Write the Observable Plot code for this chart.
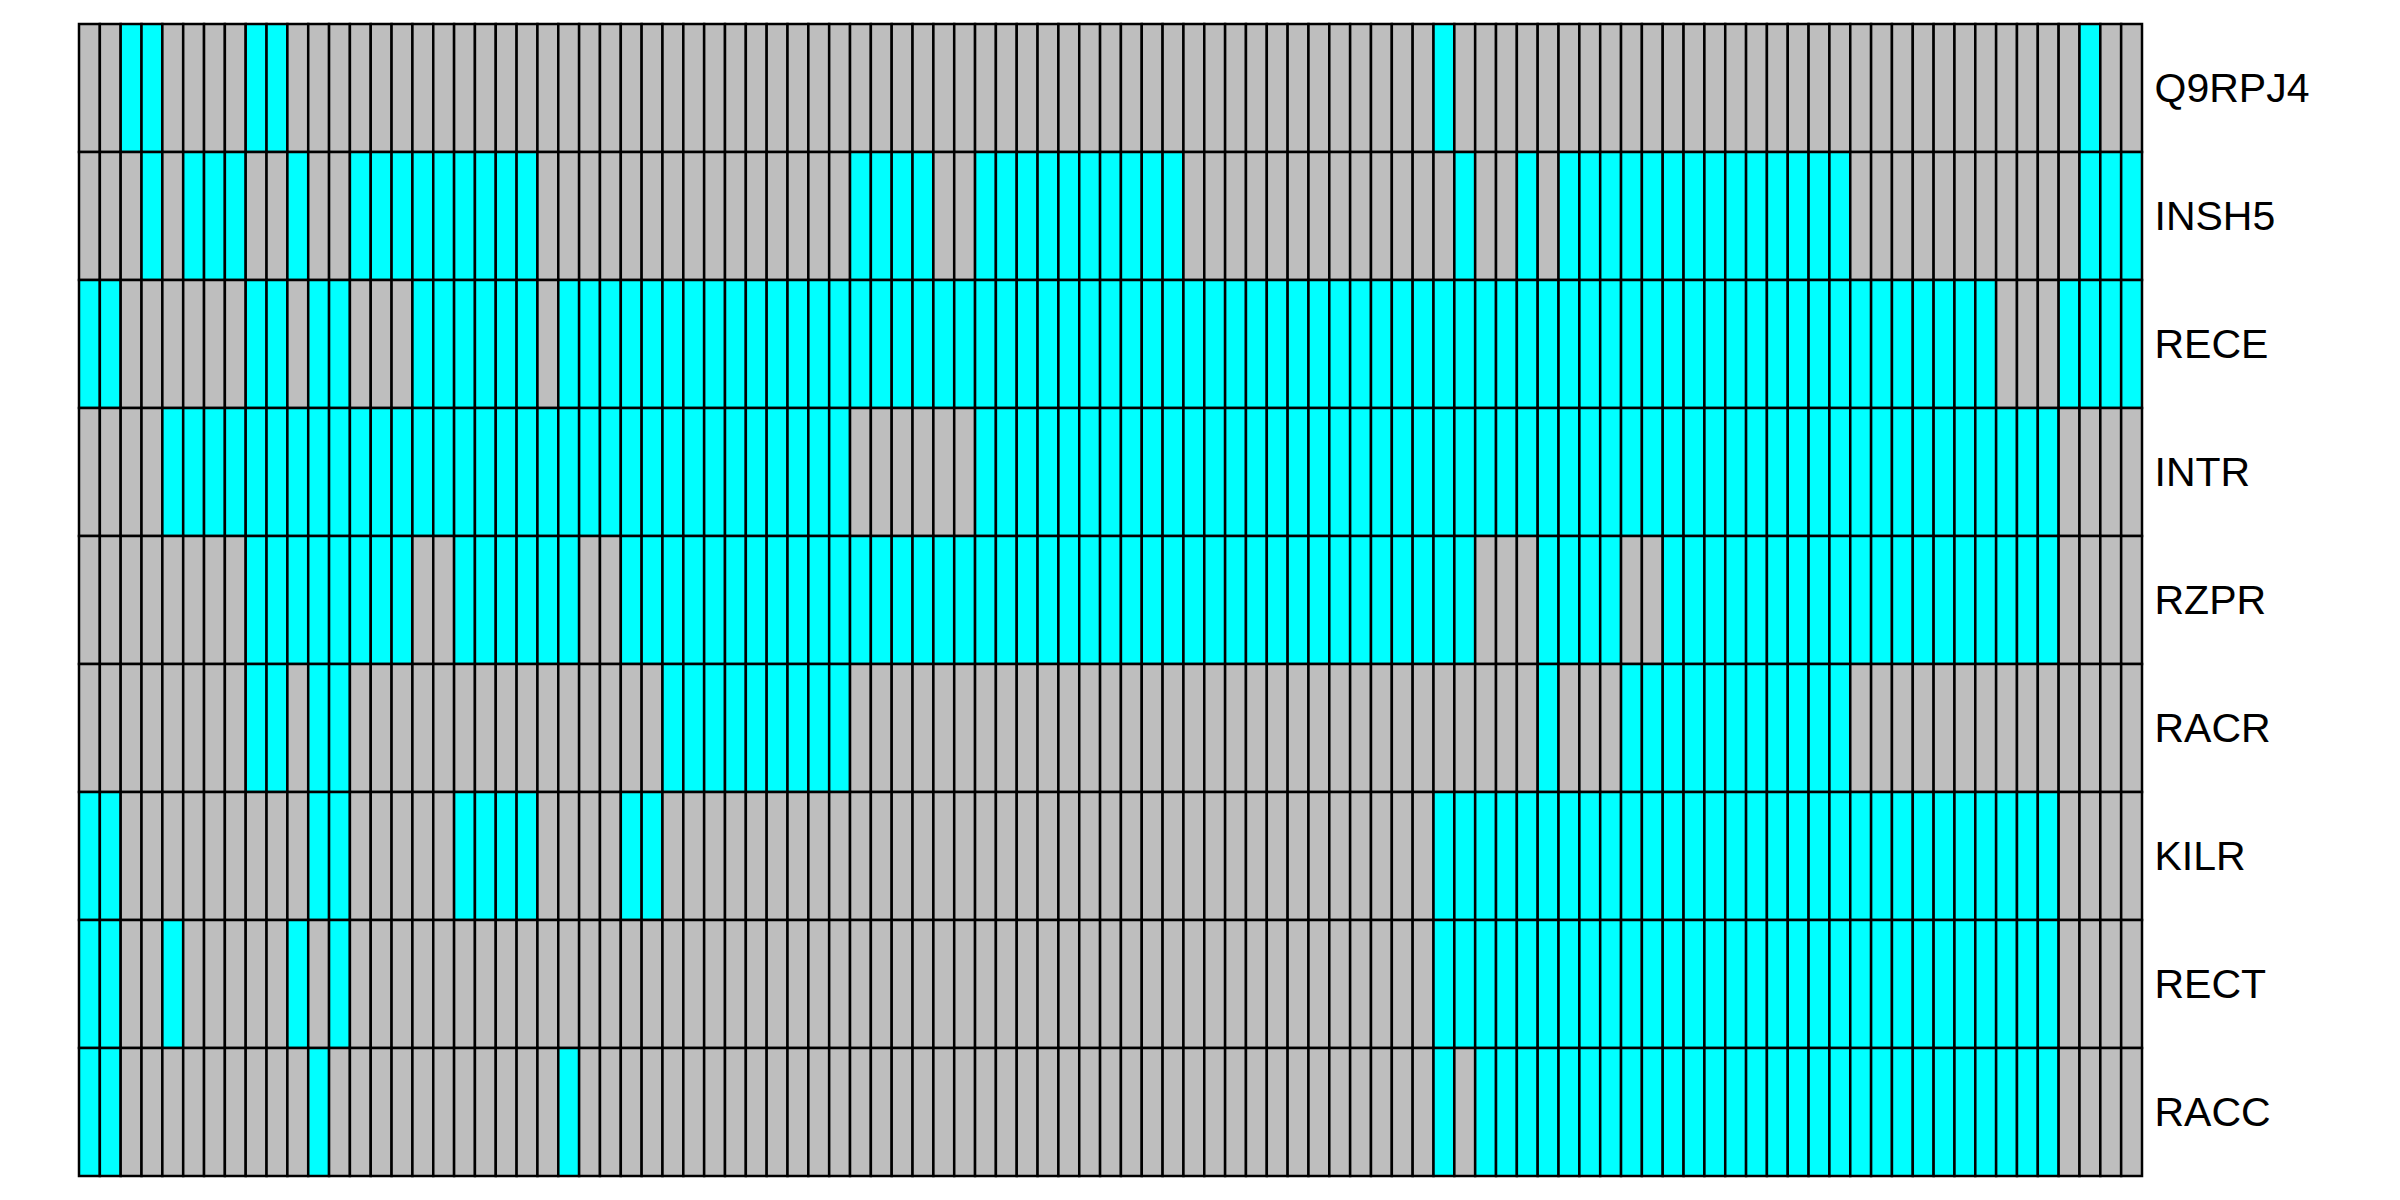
<!DOCTYPE html>
<html>
<head>
<meta charset="utf-8">
<script src="https://cdn.jsdelivr.net/npm/d3@7"></script>
<script src="https://cdn.jsdelivr.net/npm/@observablehq/plot@0.6"></script>
<style>
  html, body { margin: 0; padding: 0; background: #ffffff; }
</style>
</head>
<body>
<div id="chart"></div>
<script>
// Row labels (top to bottom)
const rowLabels = ["Q9RPJ4", "INSH5", "RECE", "INTR", "RZPR", "RACR", "KILR", "RECT", "RACC"];

// Presence (1 = cyan) / absence (0 = gray) per column, 99 columns per row
const Q9RPJ4 = "0011000011" + "0000000000" + "0000000000" + "0000000000" + "0000000000" + "0000000000" + "0000010000" + "0000000000" + "0000000000" + "000000100";
const INSH5  = "0001011100" + "1001111111" + "1100000000" + "0000000111" + "1001111111" + "1110000000" + "0000001001" + "0111111111" + "1111100000" + "000000111";
const RECE   = "1100000011" + "0110001111" + "1101111111" + "1111111111" + "1111111111" + "1111111111" + "1111111111" + "1111111111" + "1111111111" + "110001111";
const INTR   = "0000111111" + "1111111111" + "1111111111" + "1111111000" + "0001111111" + "1111111111" + "1111111111" + "1111111111" + "1111111111" + "111110000";
const RZPR   = "0000000011" + "1111110011" + "1111001111" + "1111111111" + "1111111111" + "1111111111" + "1111111000" + "1111001111" + "1111111111" + "111110000";
const RACR   = "0000000011" + "0110000000" + "0000000011" + "1111111000" + "0000000000" + "0000000000" + "0000000000" + "1000111111" + "1111100000" + "000000000";
const KILR   = "1100000000" + "0110000011" + "1100001100" + "0000000000" + "0000000000" + "0000000000" + "0000011111" + "1111111111" + "1111111111" + "111110000";
const RECT   = "1100100000" + "1010000000" + "0000000000" + "0000000000" + "0000000000" + "0000000000" + "0000011111" + "1111111111" + "1111111111" + "111110000";
const RACC   = "1100000000" + "0100000000" + "0001000000" + "0000000000" + "0000000000" + "0000000000" + "0000010111" + "1111111111" + "1111111111" + "111110000";

const rowValues = [Q9RPJ4, INSH5, RECE, INTR, RZPR, RACR, KILR, RECT, RACC];

const nCols = Q9RPJ4.length;
const columns = d3.range(nCols);

const cells = [];
rowLabels.forEach((row, r) => {
  const s = rowValues[r];
  for (let c = 0; c < s.length; c++) {
    cells.push({row, col: c, v: +s[c]});
  }
});

const chart = Plot.plot({
  width: 2400,
  height: 1200,
  marginLeft: 79,
  marginRight: 258,
  marginTop: 20,
  marginBottom: 21,
  style: {fontFamily: "'Liberation Sans', Arial, Helvetica, sans-serif", fontSize: "41px", background: "#ffffff", color: "#000000"},
  x: {type: "band", domain: columns, padding: 0, axis: null},
  y: {type: "band", domain: rowLabels, padding: 0, axis: null},
  color: {type: "ordinal", domain: [0, 1], range: ["#BEBEBE", "#00FFFF"]},
  marks: [
    Plot.cell(cells, {x: "col", y: "row", fill: "v", stroke: "#000000", strokeWidth: 2.5}),
    Plot.axisY({anchor: "right", tickSize: 0, tickPadding: 12, fontSize: 41, label: null})
  ]
});

document.getElementById("chart").appendChild(chart);
</script>
</body>
</html>
